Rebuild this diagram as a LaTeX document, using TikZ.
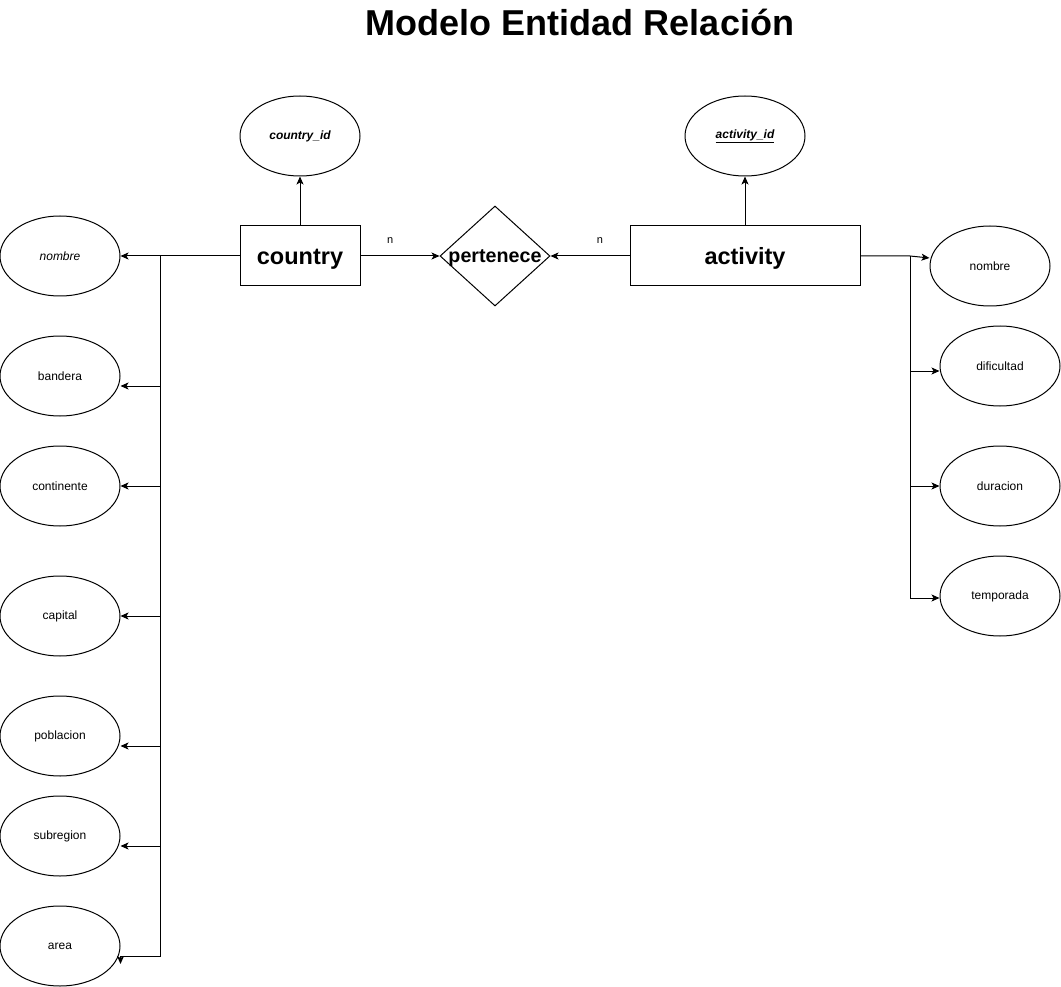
\documentclass[tikz,border=0pt]{standalone}
\usepackage{fontspec}
\setmainfont{Liberation Sans}
\usetikzlibrary{shapes.geometric,arrows.meta}

\tikzset{
  attr/.style={draw,ellipse,minimum width=120,minimum height=80,inner sep=0pt,font=\fontsize{12}{14}\selectfont},
  entity/.style={draw,rectangle,minimum height=60,inner sep=0pt,text height=21.6pt,text depth=4.9pt,font=\bfseries\fontsize{23.5}{27}\selectfont},
  rel/.style={draw,diamond,minimum width=110,minimum height=100,inner sep=0pt},
  link/.style={-{Stealth[length=8pt,width=7pt,inset=2pt]}},
  card/.style={font=\fontsize{11}{13}\selectfont,yshift=15}
}

\begin{document}
\begin{tikzpicture}[x=1pt,y=-1pt,line width=1pt]
  \useasboundingbox (0,0) rectangle (1061,987);
  \node[font=\bfseries\fontsize{36}{40}\selectfont] (title) at (580,22) {Modelo Entidad Relación};

  \node[entity,minimum width=120] (country) at (300,256) {country};
  \node[attr] (cid) at (300,136) {\bfseries\itshape country\_id};
  \node[rel,label={[font=\bfseries\fontsize{19.7}{23}\selectfont,text height=18.1pt,text depth=4.1pt]center:pertenece}] (pert) at (495,256) {};
  \node[entity,minimum width=230] (activity) at (745,256) {activity};
  \node[attr] (aid) at (745,136) {\bfseries\itshape\underline{activity\_id}};

  \node[attr] (cnombre) at (60,256) {\itshape nombre};
  \node[attr] (bandera) at (60,376) {bandera};
  \node[attr] (continente) at (60,486) {continente};
  \node[attr] (capital) at (60,616) {capital};
  \node[attr] (poblacion) at (60,736) {poblacion};
  \node[attr] (subregion) at (60,836) {subregion};
  \node[attr] (area) at (60,946) {area};

  \node[attr] (anombre) at (990,266) {nombre};
  \node[attr] (dificultad) at (1000,366) {dificultad};
  \node[attr] (duracion) at (1000,486) {duracion};
  \node[attr] (temporada) at (1000,596) {temporada};

  \coordinate (ltop) at (160,256);
  \coordinate (rtop) at (910,256);

  \draw[link] (country) -- (cid);
  \draw[link] (activity) -- (aid);
  \draw[link] (country) -- node[card,pos=0.375] (n1) {n} (pert);
  \draw[link] (activity) -- node[card,pos=0.375] (n2) {n} (pert);

  \draw[link] (country) -- (cnombre);
  \draw[link] (ltop) |- ([yshift=-10pt]bandera.east);
  \draw[link] (ltop) |- (continente.east);
  \draw[link] (ltop) |- (capital.east);
  \draw[link] (ltop) |- ([yshift=-10pt]poblacion.east);
  \draw[link] (ltop) |- ([yshift=-10pt]subregion.east);
  \draw[link] (ltop) |- ([yshift=-10pt]area.east) -- ([yshift=-18pt]area.east);

  \draw[link] (activity.east) -- (rtop) -- ([yshift=8pt]anombre.west);
  \draw[link] (rtop) |- ([yshift=-5pt]dificultad.west);
  \draw[link] (rtop) |- (duracion.west);
  \draw[link] (rtop) |- ([yshift=-2pt]temporada.west);
\end{tikzpicture}
\end{document}
